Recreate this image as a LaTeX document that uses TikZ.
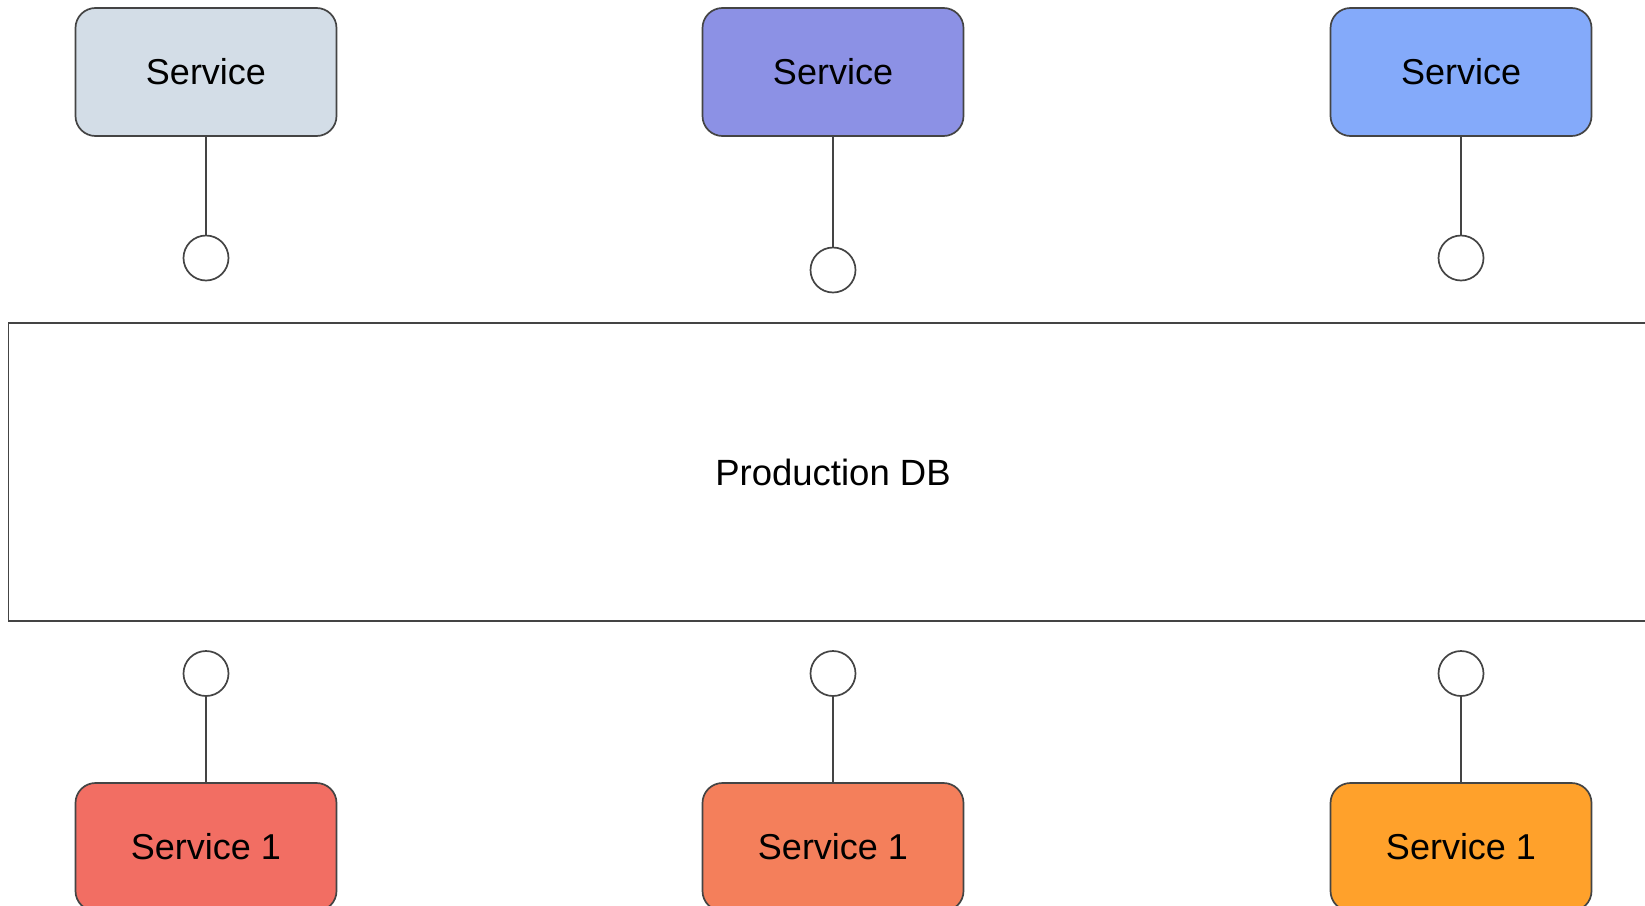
\documentclass[tikz,border=0pt]{standalone}
\usepackage{fontspec}
\setmainfont{Liberation Sans}
\begin{document}
\begin{tikzpicture}[x=1pt,y=-1pt,
  line/.style={draw=linegray,line width=1.7pt},
  svc/.style={line,rounded corners=20pt,minimum width=261pt,minimum height=128pt,inner sep=0pt,font=\fontsize{36}{42}\selectfont,text=black},
  port/.style={line,circle,fill=white,minimum size=45pt,inner sep=0pt},
  dbbox/.style={line,rectangle,fill=white,minimum width=1649pt,minimum height=298pt,inner sep=0pt,font=\fontsize{36.5}{42}\selectfont}]
\definecolor{linegray}{HTML}{444444}
\definecolor{c1}{HTML}{D3DDE7}
\definecolor{c2}{HTML}{8C91E5}
\definecolor{c3}{HTML}{84AAFA}
\definecolor{c4}{HTML}{F26E63}
\definecolor{c5}{HTML}{F47F5B}
\definecolor{c6}{HTML}{FFA12B}
\useasboundingbox (0,0) rectangle (1645,905);
\clip (0,0) rectangle (1645,905);
\fill[white] (0,0) rectangle (1645,905);
\node[dbbox] (db) at (833,472) {Production DB};
\node[svc,fill=c1] (t1) at (206,72) {Service};
\node[svc,fill=c2] (t2) at (833,72) {Service};
\node[svc,fill=c3] (t3) at (1461,72) {Service};
\node[port] (p1) at (206,258) {};
\node[port] (p2) at (833,270) {};
\node[port] (p3) at (1461,258) {};
\node[svc,fill=c4] (b1) at (206,847) {Service 1};
\node[svc,fill=c5] (b2) at (833,847) {Service 1};
\node[svc,fill=c6] (b3) at (1461,847) {Service 1};
\node[port] (q1) at (206,673.5) {};
\node[port] (q2) at (833,673.5) {};
\node[port] (q3) at (1461,673.5) {};
\draw[line] (t1) -- (p1);
\draw[line] (t2) -- (p2);
\draw[line] (t3) -- (p3);
\draw[line] (q1) -- (b1);
\draw[line] (q2) -- (b2);
\draw[line] (q3) -- (b3);
\end{tikzpicture}
\end{document}
